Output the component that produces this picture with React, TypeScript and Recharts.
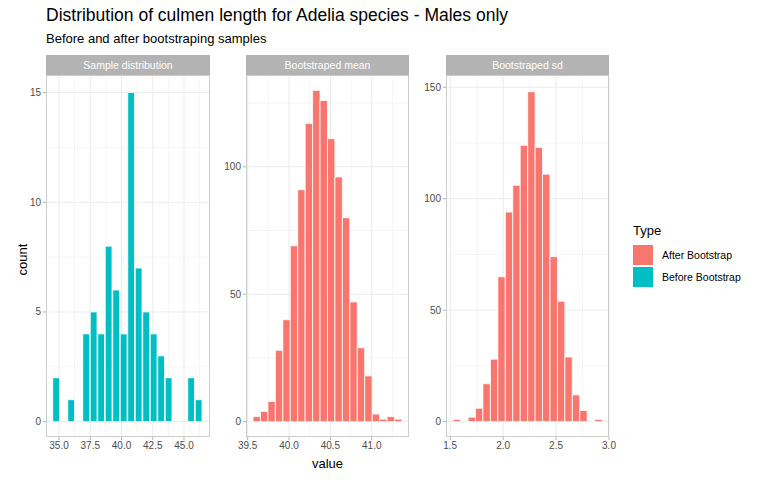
import React from "react";
import { BarChart, Bar, XAxis, YAxis, CartesianGrid } from "recharts";

const sampleX = [34.8, 36.0, 37.2, 37.8, 38.4, 39.0, 39.6, 40.2, 40.8, 41.4, 42.0, 42.6, 43.2, 43.8, 45.6, 46.2];
const sampleCount = [2, 1, 4, 5, 4, 8, 6, 4, 15, 7, 5, 4, 3, 2, 2, 1];
const meanX = [39.61, 39.70, 39.79, 39.88, 39.97, 40.06, 40.15, 40.24, 40.33, 40.42, 40.51, 40.60, 40.69, 40.78, 40.87, 40.96, 41.05, 41.14, 41.23, 41.32];
const meanCount = [2, 4, 8, 28, 40, 69, 91, 117, 130, 126, 111, 96, 80, 47, 29, 18, 3, 1, 2, 1];
const sdX = [1.563, 1.704, 1.774, 1.844, 1.915, 1.985, 2.056, 2.126, 2.196, 2.267, 2.337, 2.407, 2.478, 2.548, 2.618, 2.689, 2.759, 2.900];
const sdCount = [1, 2, 6, 17, 28, 65, 94, 106, 124, 148, 123, 111, 74, 54, 29, 12, 5, 1];

const RED = "#F8766D";
const TEAL = "#00BFC4";

type PanelProps = {
  title: string; left: number; right: number; xs: number[]; ys: number[]; color: string;
  xDomain: [number, number]; yDomain: [number, number]; xTicks: number[]; xMinor: number[];
  yTicks: number[]; yMinor: number[]; barWidth: number; xFmt: (v: number) => string;
};

function Panel(p: PanelProps) {
  const data = p.xs.map((x, i) => ({ x, count: p.ys[i] }));
  const top = 75, bottom = 437;
  const yw = 40;
  const rm = 12;
  const tickStyle = { fontSize: 10, fill: "#4d4d4d", fontFamily: "Liberation Sans, Arial" };
  return (
    <>
      <div style={{ position: "absolute", left: p.left, top: 55, width: p.right - p.left, height: 20, background: "#b3b3b3", color: "#fff", fontSize: 10.5, fontFamily: "Liberation Sans, Arial", textAlign: "center", lineHeight: "20px" }}>{p.title}</div>
      <div style={{ position: "absolute", left: p.left - yw, top: 0 }}>
        <BarChart width={p.right - p.left + yw + rm} height={480} data={data} margin={{ top, right: rm, left: 0, bottom: 480 - bottom - 20 }}>
          <CartesianGrid stroke="#ebebeb" strokeWidth={0.5} horizontalValues={p.yMinor} verticalValues={p.xMinor} />
          <CartesianGrid stroke="#ebebeb" strokeWidth={1} horizontalValues={p.yTicks} verticalValues={p.xTicks} />
          <XAxis dataKey="x" type="number" domain={p.xDomain} ticks={p.xTicks} tickFormatter={p.xFmt} allowDataOverflow height={20} axisLine={false} tickLine={{ stroke: "#b3b3b3" }} tickSize={3} tick={tickStyle} interval={0} />
          <YAxis type="number" domain={p.yDomain} ticks={p.yTicks} allowDataOverflow width={yw} axisLine={false} tickLine={{ stroke: "#b3b3b3" }} tickSize={3} tick={tickStyle} interval={0} />
          <Bar dataKey="count" fill={p.color} stroke="#ffffff" strokeWidth={0.8} barSize={p.barWidth} isAnimationActive={false} />
        </BarChart>
      </div>
      <div style={{ position: "absolute", left: p.left, top, width: p.right - p.left, height: bottom - top, border: "1px solid #cccccc", boxSizing: "border-box", pointerEvents: "none" }} />
    </>
  );
}

export default function App() {
  const font = "Liberation Sans, Arial";
  return (
    <div style={{ position: "absolute", left: 0, top: 0, width: 768, height: 480, background: "#fff", fontFamily: font, overflow: "hidden" }}>
      <div style={{ position: "absolute", left: 46, top: 5, fontSize: 17.5, color: "#000" }}>Distribution of culmen length for Adelia species - Males only</div>
      <div style={{ position: "absolute", left: 46, top: 31, fontSize: 13, color: "#000" }}>Before and after bootstraping samples</div>
      <Panel title="Sample distribution" left={46} right={210} xs={sampleX} ys={sampleCount} color={TEAL}
        xDomain={[33.96, 47.08]} yDomain={[-0.7, 15.8]} xTicks={[35, 37.5, 40, 42.5, 45]} xMinor={[36.25, 38.75, 41.25, 43.75, 46.25]}
        yTicks={[0, 5, 10, 15]} yMinor={[2.5, 7.5, 12.5]} barWidth={7.5} xFmt={(v) => v.toFixed(1)} />
      <Panel title="Bootstraped mean" left={246} right={409} xs={meanX} ys={meanCount} color={RED}
        xDomain={[39.48, 41.45]} yDomain={[-6, 136]} xTicks={[39.5, 40, 40.5, 41]} xMinor={[39.75, 40.25, 40.75, 41.25]}
        yTicks={[0, 50, 100]} yMinor={[25, 75, 125]} barWidth={7.4} xFmt={(v) => v.toFixed(1)} />
      <Panel title="Bootstraped sd" left={446} right={609} xs={sdX} ys={sdCount} color={RED}
        xDomain={[1.46, 3.0]} yDomain={[-6.9, 155.5]} xTicks={[1.5, 2, 2.5, 3]} xMinor={[1.75, 2.25, 2.75]}
        yTicks={[0, 50, 100, 150]} yMinor={[25, 75, 125]} barWidth={7.4} xFmt={(v) => v.toFixed(1)} />
      <div style={{ position: "absolute", left: 2, top: 252, fontSize: 13, transform: "rotate(-90deg)", transformOrigin: "center", width: 40, textAlign: "center" }}>count</div>
      <div style={{ position: "absolute", left: 300, top: 456, fontSize: 13, width: 55, textAlign: "center" }}>value</div>
      <div style={{ position: "absolute", left: 633, top: 223, fontSize: 13 }}>Type</div>
      <div style={{ position: "absolute", left: 633, top: 245, width: 20, height: 20, background: RED }} />
      <div style={{ position: "absolute", left: 633, top: 267, width: 20, height: 20, background: TEAL }} />
      <div style={{ position: "absolute", left: 662, top: 249, fontSize: 10.5 }}>After Bootstrap</div>
      <div style={{ position: "absolute", left: 662, top: 271, fontSize: 10.5 }}>Before Bootstrap</div>
    </div>
  );
}
